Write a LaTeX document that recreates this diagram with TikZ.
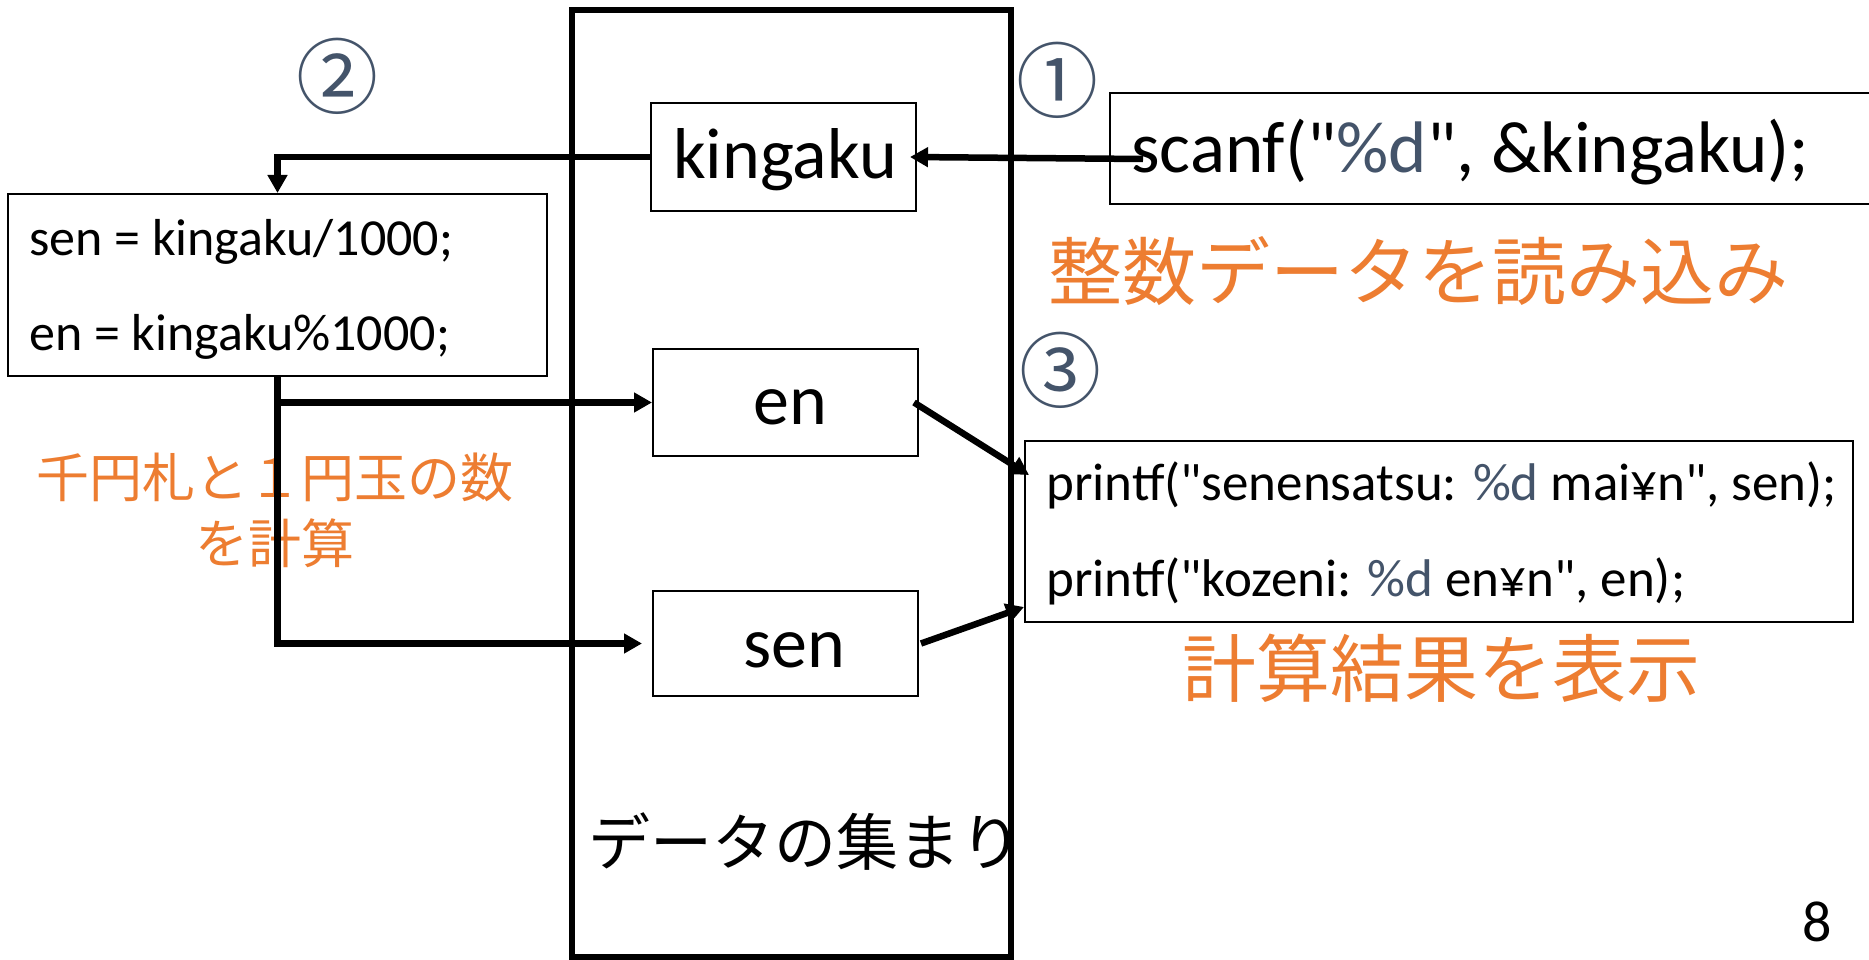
\documentclass[tikz,border=0pt]{standalone}
\usepackage{fontspec}
\setmainfont{Carlito}
\newfontfamily\codefont{Carlito}
\newfontfamily\jpfont{Noto Sans CJK JP}
\usetikzlibrary{arrows.meta,calc}
\definecolor{orng}{HTML}{ED7D31}
\definecolor{slate}{HTML}{44546A}
\tikzset{
  box/.style={draw, line width=2pt, inner sep=0pt, rectangle},
  bigbox/.style={draw, line width=5.5pt, inner sep=0pt, rectangle},
  conn/.style={line width=6.5pt, -{Triangle[length=18pt,width=19pt]}},
  varlbl/.style={inner sep=0pt, anchor=base, font=\fontsize{72}{86}\selectfont},
  codelbl/.style={inner sep=0pt, anchor=base west, font=\codefont\fontsize{52}{62}\selectfont},
  circnum/.style={inner sep=0pt, text=slate, font=\jpfont\fontsize{82}{96}\selectfont},
  bignote/.style={inner sep=0pt, text=orng, font=\jpfont\fontsize{74}{88}\selectfont},
  smallnote/.style={inner sep=0pt, text=orng, align=center, font=\jpfont\fontsize{53}{66}\selectfont},
}
\begin{document}
\begin{tikzpicture}[x=1pt,y=-1pt]
\fill[white] (0,0) rectangle (1869,960);
\useasboundingbox (0,0) rectangle (1869,960);

% big container
\node[bigbox, minimum width=439pt, minimum height=947pt] (group) at (791.5,483.5) {};
\node[inner sep=0pt, font=\jpfont\fontsize{62}{74}\selectfont] (grouplbl) at (805,842) {データの集まり};

% variable boxes
\node[box, minimum width=265pt, minimum height=108pt] (kingaku) at (783.5,157) {};
\node[varlbl] (kingakut) at (785,179) {kingaku};
\node[box, minimum width=265pt, minimum height=107pt] (en) at (785.5,402.5) {};
\node[varlbl] (ent) at (790,424) {en};
\node[box, minimum width=265pt, minimum height=105pt] (sen) at (785.5,643.5) {};
\node[varlbl] (sent) at (794,667) {sen};

% calc box
\node[box, minimum width=539pt, minimum height=182pt] (calc) at (277.5,285) {};
\node[codelbl] (calc1) at (29,255) {sen = kingaku/1000;};
\node[codelbl] (calc2) at (29,350) {en = kingaku\%1000;};

% scanf box
\node[box, minimum width=765pt, minimum height=111pt] (scanf) at (1492.5,148.5) {};
\node[inner sep=0pt, anchor=base west, font=\codefont\fontsize{73}{88}\selectfont] (scanft) at (1131,173) {scanf("{\color{slate}\%d}", \&kingaku);};

% printf box
\node[box, minimum width=828pt, minimum height=181pt] (printf) at (1439,531.5) {};
\node[codelbl, font=\codefont\fontsize{53}{64}\selectfont] (pr1) at (1046,500) {printf("senensatsu: {\color{slate}\%d} mai¥n", sen);};
\node[codelbl, font=\codefont\fontsize{53}{64}\selectfont] (pr2) at (1046,596) {printf("kozeni: {\color{slate}\%d} en¥n", en);};

% circled numbers
\node[circnum] (n1) at (1057,80) {①};
\node[circnum] (n2) at (337,76) {②};
\node[circnum] (n3) at (1060,370) {③};

% notes
\node[bignote] (note1) at (1418,271) {整数データを読み込み};
\node[bignote] (note3) at (1441,668) {計算結果を表示};
\node[smallnote] (note2) at (275,510) {千円札と１円玉の数\\を計算};

% page number
\node[inner sep=0pt, font=\fontsize{58}{70}\selectfont] (pageno) at (1817,922) {8};

% connectors
\coordinate (scstart) at (1143,159);
\draw[conn] (scstart) -- ([xshift=-7pt]kingaku.east);
\draw[conn] (kingaku.west) -| (calc.north);
\draw[conn] (calc.south) |- ([xshift=-10pt]sen.west);
\draw[conn] (calc.south |- en.west) -- (en.west);
\draw[conn] ([xshift=-5pt]en.east) -- ($(printf.north west)+(5,35)$);
\draw[conn] ([xshift=2pt]sen.east) -- ($(printf.south west)+(0,-16)$);
\end{tikzpicture}
\end{document}
